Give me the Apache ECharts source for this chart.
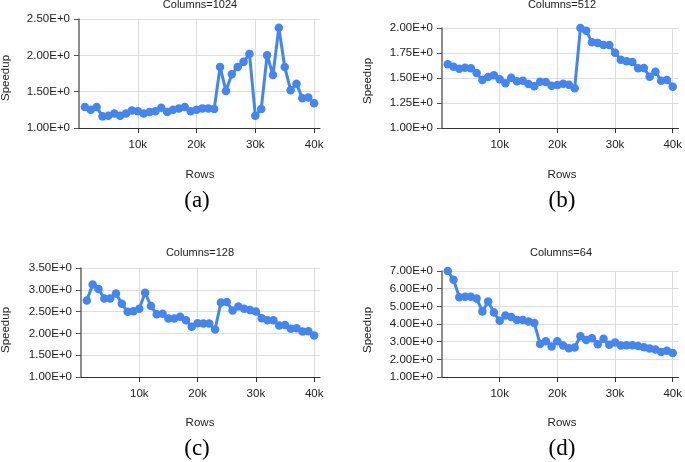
<!DOCTYPE html>
<html>
<head>
<meta charset="utf-8">
<script src="https://cdn.jsdelivr.net/npm/echarts@6/dist/echarts.min.js"></script>
<style>
html,body{margin:0;padding:0;background:#fff;}
#chart{width:685px;height:462px;}
</style>
</head>
<body>
<div id="chart"></div>
<script>
// Rows
const rows = [1000,2000,3000,4000,5000,6000,7000,8000,9000,10000,11000,12000,13000,14000,15000,16000,17000,18000,19000,20000,
  21000,22000,23000,24000,25000,26000,27000,28000,29000,30000,31000,32000,33000,34000,35000,36000,37000,38000,39000,40000];

const speedup1024 = [1.29,1.25,1.29,1.16,1.17,1.20,1.17,1.20,1.24,1.23,1.20,1.22,1.23,1.28,1.22,1.25,1.27,1.29,1.23,1.25,
  1.27,1.27,1.26,1.84,1.51,1.74,1.84,1.91,2.02,1.17,1.26,2.00,1.73,2.38,1.84,1.52,1.61,1.41,1.42,1.34];
const speedup512 = [1.637,1.613,1.593,1.603,1.597,1.55,1.48,1.51,1.527,1.487,1.447,1.503,1.467,1.473,1.44,1.417,1.463,1.46,1.423,1.43,
  1.443,1.433,1.397,2.00,1.973,1.857,1.85,1.83,1.83,1.753,1.683,1.667,1.66,1.597,1.60,1.513,1.563,1.473,1.48,1.413];
const speedup128 = [2.756,3.124,3.017,2.80,2.80,2.917,2.68,2.495,2.51,2.564,2.932,2.626,2.44,2.45,2.342,2.342,2.38,2.30,2.15,2.235,
  2.227,2.227,2.09,2.71,2.718,2.526,2.618,2.564,2.534,2.503,2.35,2.30,2.30,2.18,2.19,2.104,2.12,2.043,2.05,1.95];
const speedup64 = [7.0,6.51,5.52,5.54,5.54,5.45,4.71,5.28,4.65,4.18,4.48,4.39,4.22,4.22,4.14,4.05,2.87,3.03,2.72,3.03,
  2.78,2.63,2.67,3.31,3.10,3.20,2.85,3.16,2.82,2.95,2.78,2.80,2.80,2.76,2.68,2.61,2.55,2.42,2.48,2.36];

const panelTitles = ['Columns=1024','Columns=512','Columns=128','Columns=64'];
const captions = ['(a)','(b)','(c)','(d)'];
const yMins = [1,1,1,1];
const yMaxs = [2.5,2.0,3.5,7.0];
const yIntervals = [0.5,0.25,0.5,1];
const xTickLabels = {10000:'10k',20000:'20k',30000:'30k',40000:'40k'};
const xAxisName = 'Rows';
const yAxisName = 'Speedup';

const series = [speedup1024, speedup512, speedup128, speedup64];

const grids = [
  {left:79, top:19, width:241, height:109},
  {left:442, top:28, width:239, height:100},
  {left:81, top:268, width:239, height:109},
  {left:442, top:271, width:239, height:106}
];
const titlePos = [[200,5],[562,5],[200,253],[561,253]];
const ynamePos = [[6,78],[368,81],[6,330],[368,330]];
const xnamePos = [[200,175],[562,175],[200,423],[562,423]];
const capPos = [[197,201],[562,201],[197,449],[562,449]];

const font = 'Liberation Sans, Arial, sans-serif';
const txt = '#222';
const blue = '#4285F4';

const option = {
  animation:false,
  backgroundColor:'#fff',
  grid: grids.map(g => Object.assign({containLabel:false}, g)),
  xAxis: grids.map((g,i) => ({
    type:'value', gridIndex:i, min:0, max:41000, interval:10000,
    axisLine:{show:true, lineStyle:{color:'#333', width:1}},
    axisTick:{show:true, length:5, lineStyle:{color:'#333'}},
    axisLabel:{show:true, margin:11, color:txt, fontFamily:font, fontSize:11.5,
      showMinLabel:false, showMaxLabel:false,
      formatter: v => xTickLabels[v] || ''},
    splitLine:{show:true, showMinLine:false, showMaxLine:false, lineStyle:{color:'#dedede', width:1}}
  })),
  yAxis: grids.map((g,i) => ({
    type:'value', gridIndex:i, min:yMins[i], max:yMaxs[i], interval:yIntervals[i],
    axisLine:{show:true, lineStyle:{color:'#666', width:1.5}},
    axisTick:{show:true, length:5, lineStyle:{color:'#555'}},
    axisLabel:{margin:9, color:txt, fontFamily:font, fontSize:11.5,
      formatter: v => v.toFixed(2) + 'E+0'},
    splitLine:{show:true, lineStyle:{color:'#dedede', width:1}}
  })),
  series: series.map((s,i) => ({
    type:'line', xAxisIndex:i, yAxisIndex:i,
    data: rows.map((r,k) => [r, s[k]]),
    symbol:'circle', symbolSize:8.5, showSymbol:true,
    lineStyle:{color:blue, width:3},
    itemStyle:{color:blue},
    clip:false
  })),
  graphic: [].concat(
    panelTitles.map((t,i) => ({type:'text', x:titlePos[i][0], y:titlePos[i][1],
      style:{text:t, fill:txt, font:'11px '+font, textAlign:'center', textVerticalAlign:'middle'}})),
    captions.map((t,i) => ({type:'text', x:capPos[i][0], y:capPos[i][1],
      style:{text:t, fill:'#000', font:'23px Liberation Serif, Times New Roman, serif', textAlign:'center', textVerticalAlign:'middle'}})),
    grids.map((g,i) => ({type:'text', x:xnamePos[i][0], y:xnamePos[i][1],
      style:{text:xAxisName, fill:txt, font:'11.5px '+font, textAlign:'center', textVerticalAlign:'middle'}})),
    grids.map((g,i) => ({type:'text', x:ynamePos[i][0], y:ynamePos[i][1], rotation:Math.PI/2,
      style:{text:yAxisName, fill:txt, font:'11.5px '+font, textAlign:'center', textVerticalAlign:'middle'}}))
  )
};

const chart = echarts.init(document.getElementById('chart'), null, {renderer:'canvas'});
chart.setOption(option);
</script>
</body>
</html>
